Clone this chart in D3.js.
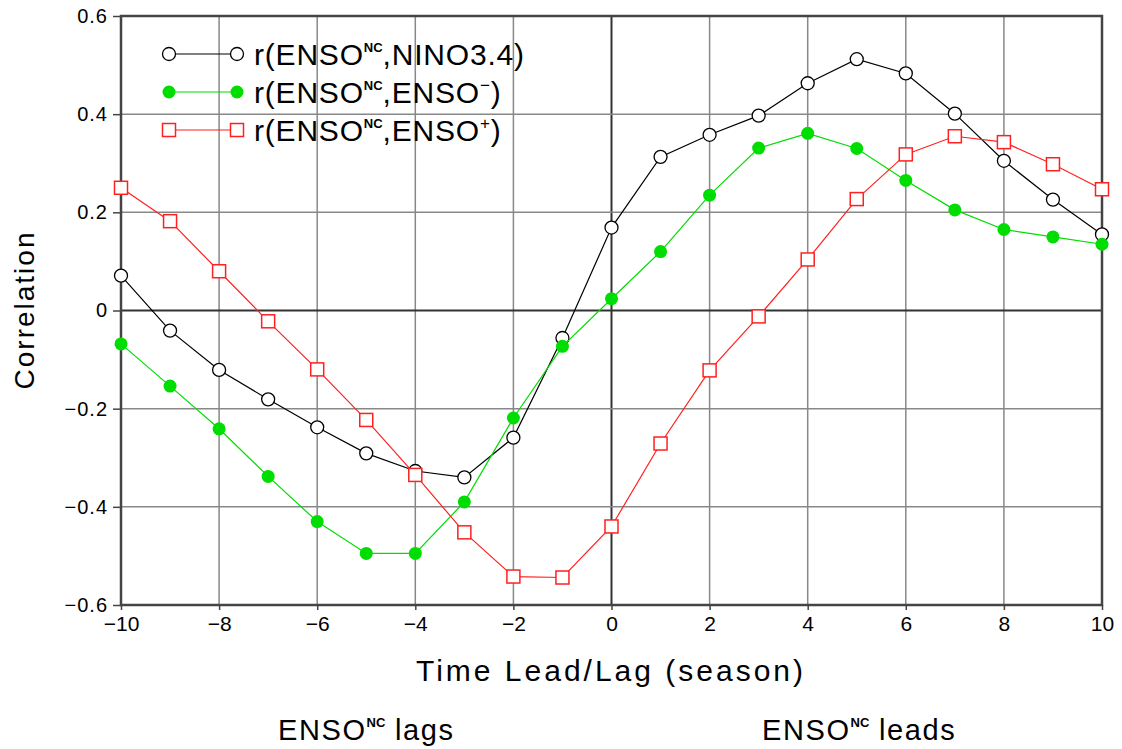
<!DOCTYPE html>
<html><head><meta charset="utf-8">
<script src="https://cdn.jsdelivr.net/npm/d3@7"></script>
<style>
body{margin:0;background:#fff;}
text{font-family:"Liberation Sans","DejaVu Sans",sans-serif;fill:#000;}
</style></head>
<body><svg id="c" width="1122" height="749"></svg>
<script>
const lags = [-10,-9,-8,-7,-6,-5,-4,-3,-2,-1,0,1,2,3,4,5,6,7,8,9,10];
const rNino = [0.071,-0.041,-0.121,-0.181,-0.238,-0.291,-0.327,-0.340,-0.259,-0.056,0.169,0.313,0.358,0.397,0.463,0.512,0.483,0.401,0.305,0.226,0.155];
const rMinus = [-0.068,-0.154,-0.241,-0.338,-0.430,-0.495,-0.495,-0.390,-0.219,-0.073,0.024,0.120,0.235,0.331,0.361,0.330,0.265,0.205,0.165,0.150,0.135];
const rPlus = [0.250,0.182,0.080,-0.022,-0.120,-0.223,-0.335,-0.452,-0.542,-0.544,-0.440,-0.271,-0.122,-0.012,0.104,0.227,0.318,0.355,0.343,0.298,0.247];
const xTicks = [-10,-8,-6,-4,-2,0,2,4,6,8,10];
const yTicks = [-0.6,-0.4,-0.2,0,0.2,0.4,0.6];

const svg = d3.select("#c");
const L=121,R=1102,T=16,B=605;
const x = d3.scaleLinear().domain([-10,10]).range([L,R]);
const y = d3.scaleLinear().domain([-0.6,0.6]).range([B,T]);

// grid
const g = svg.append("g");
g.selectAll(".gx").data(xTicks).join("line")
  .attr("x1",d=>x(d)).attr("x2",d=>x(d)).attr("y1",T).attr("y2",B)
  .attr("stroke",d=>d===0?"#333":"#888").attr("stroke-width",d=>d===0?2:1.5);
g.selectAll(".gy").data(yTicks).join("line")
  .attr("x1",L).attr("x2",R).attr("y1",d=>y(d)).attr("y2",d=>y(d))
  .attr("stroke",d=>d===0?"#333":"#888").attr("stroke-width",d=>d===0?2:1.5);

// frame
svg.append("rect").attr("x",L).attr("y",T).attr("width",R-L).attr("height",B-T)
  .attr("fill","none").attr("stroke","#444").attr("stroke-width",2.5);

// axes
const ax = svg.append("g").attr("transform",`translate(0,${B})`)
  .call(d3.axisBottom(x).tickValues(xTicks).tickSize(5).tickPadding(6)
    .tickFormat(d=>d<0?"\u2212"+Math.abs(d):d));
ax.select(".domain").remove();
ax.selectAll("line").attr("stroke","#444").attr("stroke-width",1.5);
ax.selectAll("text").attr("font-size",21).attr("fill","#000");

const ay = svg.append("g").attr("transform",`translate(${L},0)`)
  .call(d3.axisLeft(y).tickValues(yTicks).tickSize(8).tickPadding(5)
    .tickFormat(d=>d===0?"0":(d<0?"\u2212":"")+Math.abs(d).toFixed(1)));
ay.select(".domain").remove();
ay.selectAll("line").attr("stroke","#444").attr("stroke-width",1.5);
ay.selectAll("text").attr("font-size",20).attr("letter-spacing",1).attr("fill","#000");

// series
const series = [
  {vals:rNino, color:"#000", marker:"open", name:"NINO3.4", sup:null},
  {vals:rMinus, color:"#00dd00", marker:"filled", name:"ENSO", sup:"\u2212"},
  {vals:rPlus, color:"#ff2020", marker:"square", name:"ENSO", sup:"+"}
];
const line = d3.line().x((d,i)=>x(lags[i])).y(d=>y(d));
function drawMarker(sel, s){
  if(s.marker==="square"){
    sel.append("rect").attr("x",-6.5).attr("y",-6.5).attr("width",13).attr("height",13)
      .attr("fill","#fff").attr("stroke",s.color).attr("stroke-width",1.5);
  } else if(s.marker==="filled"){
    sel.append("circle").attr("r",6.5).attr("fill",s.color);
  } else {
    sel.append("circle").attr("r",6.5).attr("fill","#fff").attr("stroke",s.color).attr("stroke-width",1.3);
  }
}
series.forEach(s=>{
  svg.append("path").datum(s.vals).attr("d",line).attr("fill","none")
    .attr("stroke",s.color).attr("stroke-width",1.2);
  svg.append("g").selectAll("g").data(s.vals).join("g")
    .attr("transform",(d,i)=>`translate(${x(lags[i])},${y(d)})`)
    .each(function(){ drawMarker(d3.select(this), s); });
});

// legend
const legY=[54,92,130];
series.forEach((s,i)=>{
  const lg = svg.append("g").attr("transform",`translate(0,${legY[i]})`);
  lg.append("line").attr("x1",169).attr("x2",237).attr("stroke",s.color).attr("stroke-width",1.2);
  [169,237].forEach(px=>{ drawMarker(lg.append("g").attr("transform",`translate(${px},0)`), s); });
  const t = lg.append("text").attr("x",254).attr("y",11).attr("font-size",30).attr("letter-spacing",0.8);
  t.append("tspan").text("r(ENSO");
  t.append("tspan").text("NC").attr("font-size",13).attr("dy",-13).attr("font-weight","bold").attr("letter-spacing",0);
  t.append("tspan").text(","+s.name).attr("dy",13);
  if(s.sup){
    t.append("tspan").text(s.sup).attr("font-size",17).attr("dy",-12);
    t.append("tspan").text(")").attr("dy",12);
  } else t.append("tspan").text(")");
});

// axis titles
svg.append("text").attr("transform","translate(34,310) rotate(-90)")
  .attr("text-anchor","middle").attr("font-size",28).attr("letter-spacing",2).text("Correlation");
svg.append("text").attr("x",611).attr("y",681).attr("text-anchor","middle")
  .attr("font-size",30).attr("letter-spacing",3).text("Time Lead/Lag (season)");
function nc(xp, word){
  const t = svg.append("text").attr("x",xp).attr("y",740).attr("font-size",29).attr("letter-spacing",1.6);
  t.append("tspan").text("ENSO");
  t.append("tspan").text("NC").attr("font-size",13).attr("dy",-13).attr("font-weight","bold").attr("letter-spacing",0);
  t.append("tspan").text(" "+word).attr("dy",13);
}
nc(278,"lags");
nc(762,"leads");
</script></body></html>
